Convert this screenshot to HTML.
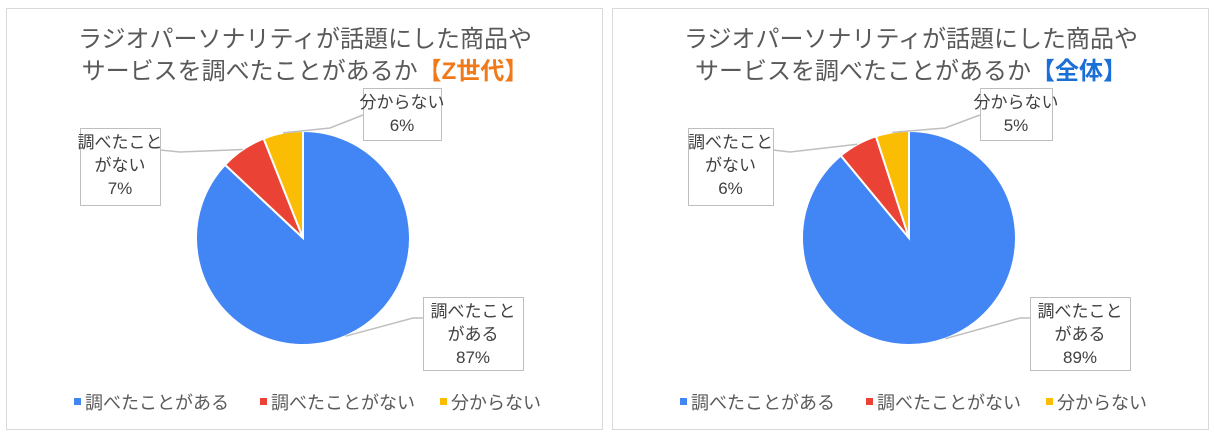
<!DOCTYPE html>
<html><head><meta charset="utf-8"><style>
body{margin:0;background:#fff;}
svg{display:block;font-family:"Liberation Sans","Noto Sans CJK JP",sans-serif;}
</style></head><body>
<svg id="c" width="1214" height="434"></svg>
<script>
const categories=["調べたことがある","調べたことがない","分からない"];
const seriesZ=[87,7,6];
const seriesAll=[89,6,5];
const colors=["#4285f4","#ea4335","#fbbc04"];
const svg=document.getElementById('c');
const NS="http://www.w3.org/2000/svg";
function mk(t,a,p){const e=document.createElementNS(NS,t);for(const k in a)e.setAttribute(k,a[k]);(p||svg).appendChild(e);return e;}
function panel(ox,title2,title2Color,vals,labelBoxes,name){
  const g=mk('g',{});
  
  
  const fr=mk('rect',{x:ox+6.5,y:8.5,width:596,height:421,fill:'#fff',stroke:'#d9d9d9'},g);
  
  
  const t1=mk('text',{x:ox+305,y:47,'text-anchor':'middle','font-size':24,fill:'#595959'},g);
  t1.textContent='ラジオパーソナリティが話題にした商品や';
  
  
  const t2=mk('text',{x:ox+305,y:79,'text-anchor':'middle','font-size':24,fill:'#595959'},g);
  
  
  const s1=mk('tspan',{},t2);s1.textContent='サービスを調べたことがあるか';
  const s2=mk('tspan',{fill:title2Color,'font-weight':'bold'},t2);s2.textContent=title2;
  const cx=ox+303,cy=238,r=107;
  const total=vals.reduce((a,b)=>a+b,0);
  let a0=-Math.PI/2;
  const mids=[];
  vals.forEach((v,i)=>{
    const a1=a0+v/total*2*Math.PI;
    const x0=cx+r*Math.cos(a0),y0=cy+r*Math.sin(a0),x1=cx+r*Math.cos(a1),y1=cy+r*Math.sin(a1);
    const p=mk('path',{d:`M${cx},${cy}L${x0},${y0}A${r},${r} 0 ${(a1-a0)>Math.PI?1:0} 1 ${x1},${y1}Z`,fill:colors[i],stroke:'#fff','stroke-width':2},g);
    
    
    mids.push((a0+a1)/2);
    a0=a1;
  });
  const lab=[["調べたこと","がある"],["調べたこと","がない"],["分からない"]];
  labelBoxes.forEach((b,i)=>{
    const m=mids[i];
    const ex=cx+r*Math.cos(m),ey=cy+r*Math.sin(m);
    const ln=mk('polyline',{points:`${ex},${ey} ${b.lx},${b.ly} ${b.ax},${b.ay}`,fill:'none',stroke:'#bfbfbf','stroke-width':1.5},g);
    
    
    const bx=mk('rect',{x:b.x+0.5,y:b.y+0.5,width:b.w,height:b.h,fill:'#fff',stroke:'#bfbfbf'},g);
    
    
    const lines=lab[i].concat([vals[i]+'%']);
    lines.forEach((s,j)=>{
      const tx=mk('text',{x:b.x+b.w/2,y:b.y+20+j*23,'text-anchor':'middle','font-size':17,fill:'#404040'},g);
      tx.textContent=s;
      
      
    });
  });
  const lx=[ox+74,ox+260,ox+440];
  categories.forEach((c,i)=>{
    const sq=mk('rect',{x:lx[i],y:398,width:7,height:7,fill:colors[i]},g);
    
    
    const tx=mk('text',{x:lx[i]+11,y:409,'font-size':18,fill:'#595959'},g);
    tx.textContent=c;
    
    
  });
}
panel(0,'【Z世代】','#f07a1a',seriesZ,[
 {x:423,y:297,w:100,h:73,lx:413,ly:318,ax:423,ay:318},
 {x:80,y:128,w:80,h:77,lx:180,ly:152,ax:160,ay:150},
 {x:363,y:88,w:78,h:52,lx:330,ly:128,ax:363,ay:115}
],'panel-z-generation');
panel(606,'【全体】','#1a6fd6',seriesAll,[
 {x:1030,y:297,w:100,h:73,lx:1020,ly:318,ax:1030,ay:318},
 {x:688,y:128,w:85,h:77,lx:790,ly:152,ax:773,ay:150},
 {x:980,y:88,w:72,h:52,lx:945,ly:128,ax:980,ay:115}
],'panel-overall');
</script>
</body></html>
